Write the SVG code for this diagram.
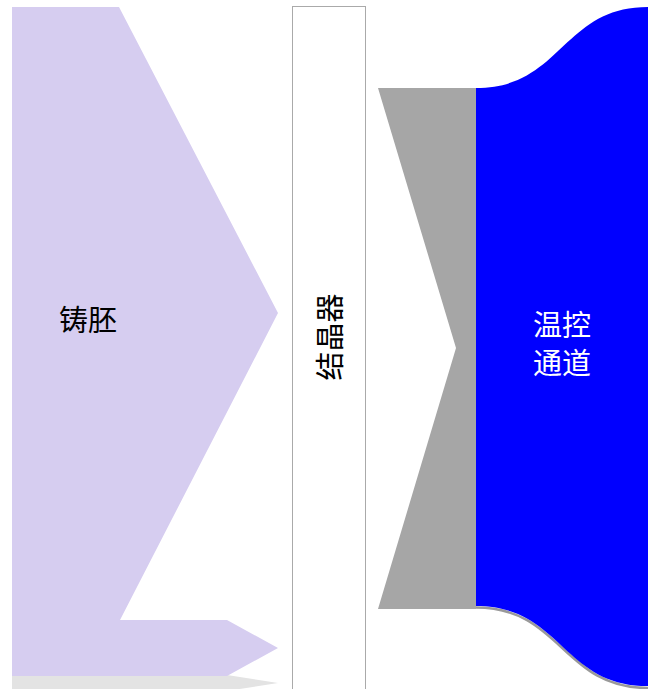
<svg xmlns="http://www.w3.org/2000/svg" width="655" height="689" viewBox="0 0 655 689">
<style>
.lbl{font-family:"Noto Sans CJK SC","Noto Sans",sans-serif;font-size:29px;text-anchor:middle;dominant-baseline:central}
</style>
<rect width="655" height="689" fill="#ffffff"/>
<g id="strip">
<polygon points="12,675 227,675 278,683 227,691 12,691" fill="#e3e3e3"/>
</g>
<g id="billet">
<polygon points="12,7 119,7 278,313 120,620 227,620 278,648 227,676 12,676" fill="#d6cdf0"/>
<text class="lbl" x="88" y="318" fill="#000">铸胚</text>
</g>
<g id="crystallizer">
<rect x="292.5" y="6.5" width="73" height="690" fill="#ffffff" stroke="#aaaaaa" stroke-width="1"/>
<text class="lbl" x="0" y="0" fill="#000" transform="translate(328,337) rotate(-90)">结晶器</text>
</g>
<g id="wedge">
<polygon points="378,88 476,88 476,609 378,609 456,348" fill="#a6a6a6"/>
</g>
<g id="channel">
<path d="M476,607.5 C562,607.5 562,688 648,688" fill="none" stroke="#999999" stroke-width="2.5"/>
<path d="M476,88 C562,88 562,7 648,7 L648,686 C562,686 562,606 476,606 Z" fill="#0000ff"/>
<text class="lbl" x="562" y="323" fill="#fff">温控</text>
<text class="lbl" x="562" y="361" fill="#fff">通道</text>
</g>
<g id="connectors"></g>
</svg>
